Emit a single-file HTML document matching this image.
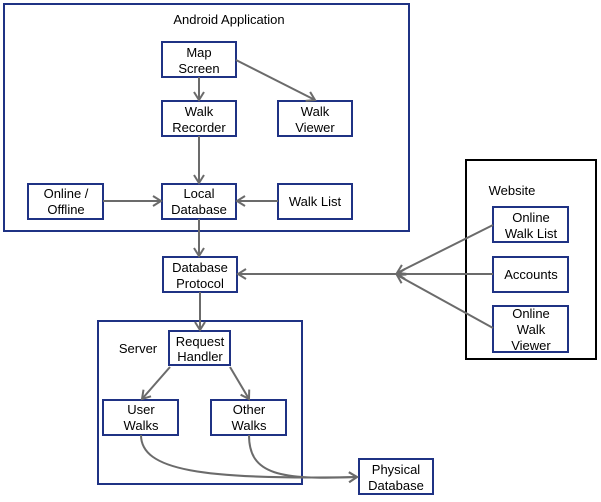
<!DOCTYPE html>
<html><head><style>
body{margin:0;background:#fff;}
svg{display:block;font-family:"Liberation Sans",Arial,sans-serif;}
</style></head><body>
<svg width="601" height="502" viewBox="0 0 601 502" xmlns="http://www.w3.org/2000/svg">
<defs>
<marker id="a" markerWidth="12" markerHeight="12" refX="10" refY="6" orient="auto" markerUnits="userSpaceOnUse">
<path d="M2,1 L10,6 L2,11" fill="none" stroke="#6b6b6b" stroke-width="2"/>
</marker>
</defs>
<g fill="none" stroke="#1f3284" stroke-width="2">
<rect x="4" y="4" width="405" height="227"/>
<rect x="98" y="321" width="204" height="163"/>
<rect x="162" y="42" width="74" height="35"/>
<rect x="162" y="101" width="74" height="35"/>
<rect x="278" y="101" width="74" height="35"/>
<rect x="28" y="184" width="75" height="35"/>
<rect x="162" y="184" width="74" height="35"/>
<rect x="278" y="184" width="74" height="35"/>
<rect x="163" y="257" width="74" height="35"/>
<rect x="169" y="331" width="61" height="34"/>
<rect x="103" y="400" width="75" height="35"/>
<rect x="211" y="400" width="75" height="35"/>
<rect x="359" y="459" width="74" height="35"/>
<rect x="493" y="207" width="75" height="35"/>
<rect x="493" y="257" width="75" height="35"/>
<rect x="493" y="306" width="75" height="46"/>
</g>
<rect x="466" y="160" width="130" height="199" fill="none" stroke="#000" stroke-width="2"/>
<g fill="none" stroke="#6b6b6b" stroke-width="2" marker-end="url(#a)">
<line x1="199" y1="77" x2="199" y2="100"/>
<line x1="236" y1="60" x2="315" y2="100"/>
<line x1="199" y1="136" x2="199" y2="183"/>
<line x1="103" y1="201" x2="161" y2="201"/>
<line x1="278" y1="201" x2="237" y2="201"/>
<line x1="199" y1="219" x2="199" y2="256"/>
<line x1="200" y1="292" x2="200" y2="330"/>
<line x1="170" y1="367" x2="142" y2="399"/>
<line x1="230" y1="367" x2="249" y2="399"/>
<line x1="397" y1="274" x2="238" y2="274"/>
<line x1="493" y1="225" x2="397" y2="273"/>
<line x1="493" y1="274" x2="397" y2="274"/>
<line x1="493" y1="328" x2="397" y2="275"/>
<path d="M141,435 C141,470 200,480 357,477"/>
<path d="M249,435 C249,475 280,480 357,477"/>
</g>
<g font-size="13" fill="#000" text-anchor="middle">
<text x="229" y="24">Android Application</text>
<text x="199" y="57">Map</text><text x="199" y="73">Screen</text>
<text x="199" y="116">Walk</text><text x="199" y="132">Recorder</text>
<text x="315" y="116">Walk</text><text x="315" y="132">Viewer</text>
<text x="66" y="198">Online /</text><text x="66" y="214">Offline</text>
<text x="199" y="198">Local</text><text x="199" y="214">Database</text>
<text x="315" y="206">Walk List</text>
<text x="200" y="272">Database</text><text x="200" y="288">Protocol</text>
<text x="138" y="353">Server</text>
<text x="200" y="346">Request</text><text x="200" y="361">Handler</text>
<text x="141" y="414">User</text><text x="141" y="430">Walks</text>
<text x="249" y="414">Other</text><text x="249" y="430">Walks</text>
<text x="396" y="474">Physical</text><text x="396" y="490">Database</text>
<text x="512" y="195">Website</text>
<text x="531" y="222">Online</text><text x="531" y="238">Walk List</text>
<text x="531" y="279">Accounts</text>
<text x="531" y="318">Online</text><text x="531" y="334">Walk</text><text x="531" y="350">Viewer</text>
</g>
</svg>
</body></html>
